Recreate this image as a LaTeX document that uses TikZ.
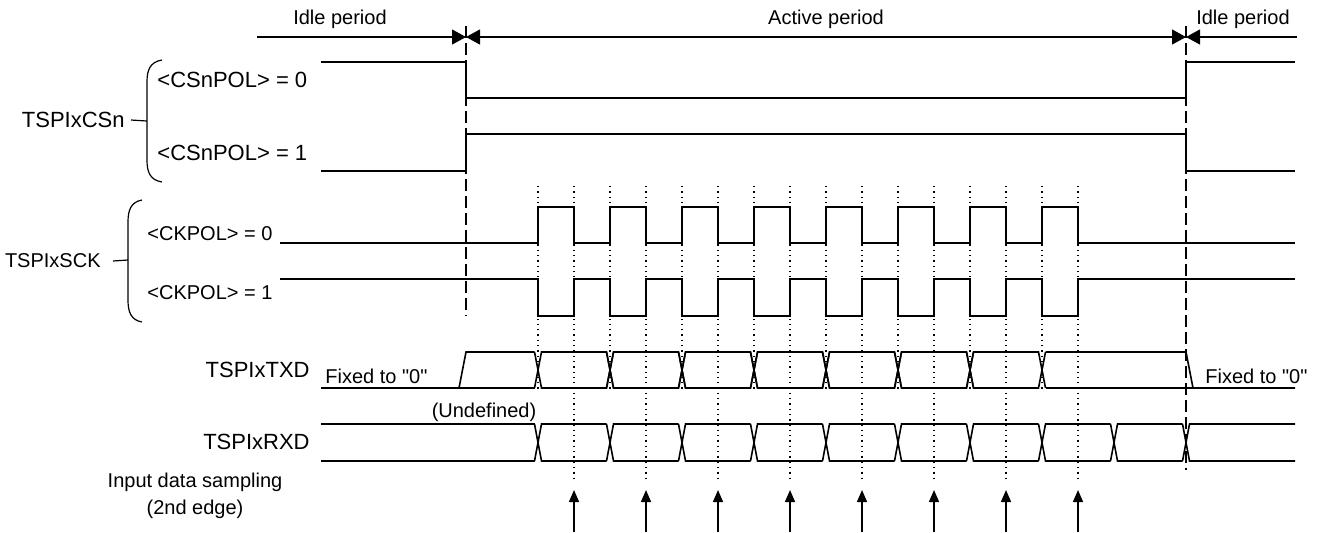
\documentclass[tikz,border=0pt]{standalone}
\usepackage{fontspec}
\setmainfont{Liberation Sans}[Ligatures=TeXOff]
\usetikzlibrary{arrows.meta, positioning}

\begin{document}
\begin{tikzpicture}[
    x=0.5pt, y=-0.5pt,
    lbl/.style={font=\fontsize{11}{13}\selectfont, inner sep=0pt},
    note/.style={font=\fontsize{10}{13.5}\selectfont, inner sep=0pt},
    sig/.style={line width=0.8pt, line join=miter},
    brace/.style={line width=0.6pt},
    bound/.style={line width=0.9pt, dash pattern=on 6pt off 2.5pt},
    edgeline/.style={line width=0.65pt, dotted},
    per/.style={line width=0.55pt, >={Triangle[length=7pt, width=7.5pt]}},
    smp/.style={line width=0.75pt, -{Triangle[length=6pt, width=5pt]}}
  ]
  \useasboundingbox (0,0) rectangle (1327,532);

  % periods
  \coordinate (pl) at (257,37);
  \coordinate (bl) at (466,37);
  \coordinate (br) at (1186,37);
  \coordinate (pr) at (1297,37);
  \node[note] (idle1) at (340,19) {Idle period};
  \node[note] (act)   at (826,19) {Active period};
  \node[note] (idle2) at (1243,19) {Idle period};
  \draw[per, ->]  (pl) -- (bl);
  \draw[per, <->] (bl) -- (br);
  \draw[per, <-]  (br) -- (pr);
  \draw[bound] (466,26) -- (466,316);
  \draw[bound] (1186,26) -- (1186,470);

  % clock edges
  \foreach \k in {0,...,7} {
    \draw[edgeline] ({538+72*\k},186) -- ({538+72*\k},390);
    \draw[edgeline] ({574+72*\k},186) -- ({574+72*\k},482);
    \coordinate (s\k) at ({574+72*\k},490);
    \coordinate (b\k) at ({574+72*\k},532);
    \draw[smp] (b\k) -- (s\k);
  }

  % TSPIxCSn
  \node[lbl, anchor=east] (cs)  at (125,120) {TSPIxCSn};
  \node[lbl, anchor=west] (cs0) at (157,80)  {<CSnPOL> = 0};
  \node[lbl, anchor=west] (cs1) at (157,153) {<CSnPOL> = 1};
  \coordinate (csb) at (147,121);
  \draw[brace] ([xshift=3pt]cs.east) -- (csb);
  \draw[brace] (162,60) .. controls (150,62) and (147,70) .. (147,82) -- (147,160)
    .. controls (147,172) and (150,180) .. (162,182);
  \draw[sig] (321,62) -- (466,62) -- (466,98) -- (1186,98) -- (1186,62) -- (1295,62);
  \draw[sig] (321,171) -- (466,171) -- (466,134) -- (1186,134) -- (1186,171) -- (1295,171);

  % TSPIxSCK
  \node[note, anchor=east] (sck) at (101,261) {TSPIxSCK};
  \node[note, anchor=west] (ck0) at (147,234) {<CKPOL> = 0};
  \node[note, anchor=west] (ck1) at (147,293) {<CKPOL> = 1};
  \coordinate (sckb) at (128,260);
  \draw[brace] ([xshift=6pt]sck.east) -- (sckb);
  \draw[brace] (142,200) .. controls (131,202) and (128,210) .. (128,222) -- (128,300)
    .. controls (128,312) and (131,320) .. (142,322);
  \draw[sig] (280,243) \foreach \k in {0,...,7} {
      -- ({538+72*\k},243) -- ({538+72*\k},207) -- ({574+72*\k},207) -- ({574+72*\k},243)
    } -- (1295,243);
  \draw[sig] (280,279) \foreach \k in {0,...,7} {
      -- ({538+72*\k},279) -- ({538+72*\k},316) -- ({574+72*\k},316) -- ({574+72*\k},279)
    } -- (1295,279);

  % TSPIxTXD
  \node[lbl, anchor=east]  (txd)  at (310,370)  {TSPIxTXD};
  \node[note, anchor=west] (fix1) at (325,376)  {Fixed to "0"};
  \node[note, anchor=west] (fix2) at (1205,376) {Fixed to "0"};
  \draw[sig] (321,388) -- (459,388) -- (466,352) -- (534.5,352);
  \draw[sig] (459,388) -- (534.5,388);
  \foreach \k in {0,...,6} {
    \draw[sig] ({534.5+72*\k},388) -- ({541.5+72*\k},352) -- ({606.5+72*\k},352) -- ({613.5+72*\k},388);
    \draw[sig] ({534.5+72*\k},352) -- ({541.5+72*\k},388) -- ({606.5+72*\k},388) -- ({613.5+72*\k},352);
  }
  \draw[sig] (1045.5,352) -- (1186,352) -- (1193,388) -- (1295,388);
  \draw[sig] (1045.5,388) -- (1193,388);

  % TSPIxRXD
  \node[lbl, anchor=east] (rxd)   at (310,442) {TSPIxRXD};
  \node[note]             (undef) at (484,412) {(Undefined)};
  \draw[sig] (321,424) -- (534.5,424);
  \draw[sig] (321,461) -- (534.5,461);
  \foreach \k in {0,...,8} {
    \draw[sig] ({534.5+72*\k},461) -- ({541.5+72*\k},424) -- ({606.5+72*\k},424);
    \draw[sig] ({534.5+72*\k},424) -- ({541.5+72*\k},461) -- ({606.5+72*\k},461);
  }
  \draw[sig] (1182.5,461) -- (1189.5,424) -- (1295,424);
  \draw[sig] (1182.5,424) -- (1189.5,461) -- (1295,461);

  \node[note, align=center] (samp) at (195,496) {Input data sampling\\(2nd edge)};
\end{tikzpicture}
\end{document}
